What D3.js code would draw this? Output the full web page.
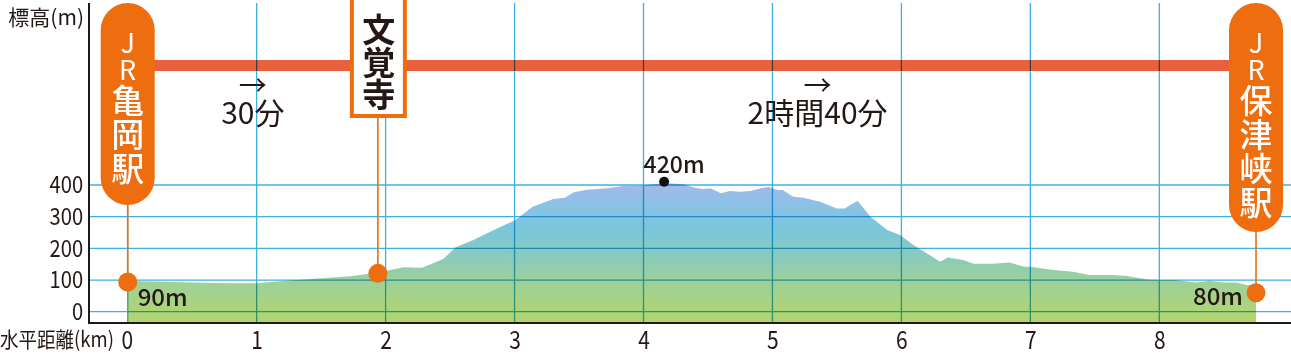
<!DOCTYPE html>
<html><head><meta charset="utf-8">
<script src="https://cdn.jsdelivr.net/npm/d3@7"></script>
<style>
html,body{margin:0;padding:0;background:#fff;}
svg{display:block;font-family:"Noto Sans CJK JP","Noto Sans",sans-serif;}
</style></head>
<body><svg id="c" width="1291" height="357"></svg>
<script>
// ---- data ----
const distKm = [0,0.2,0.5,0.8,1.0,1.21,1.47,1.73,1.94,2.14,2.28,2.35,2.45,2.54,2.68,2.86,3.0,3.04,3.14,3.3,3.39,3.46,3.56,3.72,3.84,3.97,4.08,4.21,4.31,4.39,4.46,4.52,4.6,4.67,4.75,4.83,4.91,4.97,5.04,5.08,5.16,5.24,5.37,5.5,5.56,5.66,5.76,5.89,5.99,6.09,6.2,6.3,6.36,6.48,6.56,6.71,6.84,6.95,7.0,7.18,7.33,7.46,7.64,7.75,7.91,8.0,8.11,8.29,8.39,8.5,8.6,8.68,8.75];
const elevM  = [97,95,92,90,90,97,105,112,124,140,139,150,167,203,226,262,288,300,331,356,360,377,385,390,397,398,402,405,402,392,387,390,374,381,379,381,390,394,384,384,363,360,347,326,326,350,300,258,242,211,184,158,171,163,151,151,155,142,142,132,126,116,116,113,102,100,100,92,98,92,92,84,84];
const yTicks = [0,100,200,300,400];
const xTicks = [0,1,2,3,4,5,6,7,8];
const stationChars = [["J","R","亀","岡","駅"],["文","覚","寺"],["J","R","保","津","峡","駅"]];
const stationKm = [0, 1.94, 8.75];
const stationElev = [94, 121, 60];
const endLabels = ["90m","80m"];
const peakKm = 4.16, peakElev = 410, peakLabel = "420m";
const timeLabels = ["30分","2時間40分"];
const timeKm = [0.97, 5.35];
const yTitle = "標高(m)", xTitle = "水平距離(km)";

// ---- layout ----
const W = 1291, H = 357;
const axisX = 89, baseY = 323, topY = 3, routeY = 65.5;
const orange = "#ed6d0f", ink = "#231815";
const svg = d3.select("#c");
const x = d3.scaleLinear().domain([0,8]).range([127.7,1159.3]);
const y = d3.scaleLinear().domain([0,400]).range([311.7,185]);
const data = distKm.map((k,i)=>({km:k, e:elevM[i]}));

// gradient
const defs = svg.append("defs");
const grad = defs.append("linearGradient").attr("id","g").attr("gradientUnits","userSpaceOnUse")
  .attr("x1",0).attr("x2",0).attr("y1",y(420)).attr("y2",baseY);
[[0,"#a9b7e6"],[0.15,"#8fc0e8"],[0.35,"#79c7dc"],[0.55,"#8bcbbb"],[0.75,"#a1d193"],[1,"#b2d66c"]]
  .forEach(([o,c])=>grad.append("stop").attr("offset",o).attr("stop-color",c));

// area
svg.append("path").datum(data)
  .attr("d", d3.area().x(d=>x(d.km)).y0(baseY).y1(d=>y(d.e)))
  .attr("fill","url(#g)");

// route line
svg.append("line").attr("x1",x(stationKm[0])+26).attr("x2",x(stationKm[2])-27)
  .attr("y1",routeY).attr("y2",routeY).attr("stroke","#e9603f").attr("stroke-width",11);

// grid
const grid = svg.append("g").style("mix-blend-mode","multiply").attr("stroke","#3cb2e0").attr("stroke-width",1.3);
grid.selectAll(".h").data(yTicks).join("line")
  .attr("x1",axisX).attr("x2",W).attr("y1",d=>y(d)).attr("y2",d=>y(d));
grid.selectAll(".v").data(xTicks).join("line")
  .attr("x1",d=>x(d)).attr("x2",d=>x(d)).attr("y1",topY).attr("y2",baseY);

// axes lines
svg.append("line").attr("x1",axisX).attr("x2",axisX).attr("y1",topY).attr("y2",baseY+1).attr("stroke",ink).attr("stroke-width",2);
svg.append("line").attr("x1",axisX).attr("x2",W).attr("y1",baseY).attr("y2",baseY).attr("stroke",ink).attr("stroke-width",2);

// axis labels via d3 axes
const ya = svg.append("g").attr("transform",`translate(${axisX},0)`)
  .call(d3.axisLeft(y).tickValues(yTicks).tickSize(0).tickPadding(7));
ya.select(".domain").remove();
ya.selectAll("text").attr("font-size",24).attr("fill",ink).attr("font-family","Noto Sans CJK JP")
  .attr("transform","scale(0.84,1)");
const xa = svg.append("g").attr("transform",`translate(0,${baseY})`)
  .call(d3.axisBottom(x).tickValues(xTicks).tickFormat(d3.format("d")).tickSize(0).tickPadding(8));
xa.select(".domain").remove();
xa.selectAll("text").attr("font-size",25).attr("fill",ink).attr("font-family","Noto Sans CJK JP")
  .attr("transform","scale(0.84,1)");
xa.selectAll(".tick").filter(d=>d===0).select("text").attr("dx",-1);

// titles
svg.append("text").attr("x",84).attr("y",25).attr("text-anchor","end").attr("font-size",21).attr("fill",ink).text(yTitle);
svg.append("text").attr("x",0).attr("y",347).attr("font-size",21).attr("fill",ink)
  .attr("textLength",114).attr("lengthAdjust","spacingAndGlyphs").text(xTitle);

// leader lines and dots
const leaderTop = [205, 118, 232];
stationKm.forEach((k,i)=>{
  svg.append("line").attr("x1",x(k)).attr("x2",x(k)).attr("y1",leaderTop[i]).attr("y2",y(stationElev[i]))
    .attr("stroke",orange).attr("stroke-width",1.6);
  svg.append("circle").attr("cx",x(k)).attr("cy",y(stationElev[i])).attr("r",9.5).attr("fill",orange);
});

// pills
const pillBottom = [205, null, 232];
[0,2].forEach(i=>{
  const cx = x(stationKm[i]);
  svg.append("rect").attr("x",cx-27).attr("y",3).attr("width",54).attr("height",pillBottom[i]-3)
    .attr("rx",27).attr("ry",27).attr("fill",orange);
  let yy = 41, prevLatin = true;
  stationChars[i].forEach((c,j)=>{
    const latin = /[A-Z]/.test(c);
    if (j>0) yy += latin ? 27 : (prevLatin ? 31 : 34);
    svg.append("text").attr("x",cx).attr("y",yy).attr("text-anchor","middle").attr("dominant-baseline","central")
      .attr("font-size",latin?27:33).attr("font-weight",latin?400:500).attr("fill","#fff").text(c);
    prevLatin = latin;
  });
});
// temple box
{
  const cx = x(stationKm[1]);
  svg.append("rect").attr("x",cx-26).attr("y",-6).attr("width",53).attr("height",122)
    .attr("fill","#fff").attr("stroke",orange).attr("stroke-width",4);
  stationChars[1].forEach((c,j)=>{
    svg.append("text").attr("x",cx+1).attr("y",28+j*32.5).attr("text-anchor","middle").attr("dominant-baseline","central")
      .attr("font-size",33).attr("font-weight",700).attr("fill",ink).text(c);
  });
}

// time labels with arrows
timeLabels.forEach((t,i)=>{
  const cx = x(timeKm[i]);
  svg.append("text").attr("x",cx).attr("y",84).attr("text-anchor","middle").attr("dominant-baseline","central")
    .attr("font-size",28).attr("fill",ink).text("→");
  svg.append("text").attr("x",cx).attr("y",124).attr("text-anchor","middle")
    .attr("font-size",30).attr("fill",ink).text(t);
});

// elevation labels
svg.append("text").attr("x",x(0)+10).attr("y",306).attr("font-size",24).attr("font-weight",500).attr("fill",ink).text(endLabels[0]);
svg.append("text").attr("x",x(stationKm[2])-13).attr("y",305).attr("text-anchor","end").attr("font-size",24).attr("font-weight",500).attr("fill",ink).text(endLabels[1]);
svg.append("circle").attr("cx",x(peakKm)).attr("cy",y(peakElev)).attr("r",5).attr("fill","#111");
svg.append("text").attr("x",x(peakKm)+10).attr("y",173).attr("text-anchor","middle").attr("font-size",23).attr("font-weight",500).attr("fill",ink).text(peakLabel);
</script></body></html>
